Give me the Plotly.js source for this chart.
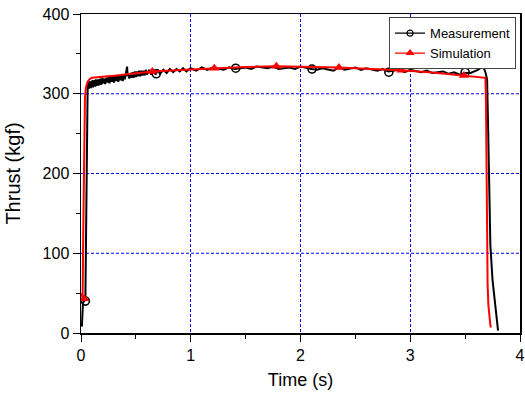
<!DOCTYPE html>
<html>
<head>
<meta charset="utf-8">
<script src="https://cdn.plot.ly/plotly-3.0.1.min.js"></script>
<style>html,body{margin:0;padding:0;background:#fff;}#chart{width:525px;height:396px;}</style>
</head>
<body>
<div id="chart"></div>
<script>
// Measurement (black) time [s] and thrust [kgf]
var measT = [0.008,0.012,0.018,0.030,0.040,0.045,0.050,0.055,0.060,0.065,0.07,0.075,0.08,0.085,0.09,0.095,0.10,0.105,0.11,0.115,0.12,0.125,0.13,0.135,0.14,0.145,0.15,0.155,0.16,0.165,0.17,0.175,0.18,0.185,0.19,0.195,0.20,0.21,0.22,0.23,0.24,0.25,0.26,0.27,0.28,0.29,0.30,0.31,0.32,0.33,0.34,0.35,0.36,0.37,0.38,0.39,0.40,0.41,0.42,0.425,0.43,0.44,0.45,0.46,0.47,0.48,0.49,0.50,0.51,0.52,0.53,0.54,0.55,0.56,0.57,0.58,0.59,0.60,0.62,0.64,0.66,0.68,0.70,0.72,0.75,0.78,0.81,0.84,0.87,0.90,0.93,0.96,1.00,1.05,1.10,1.15,1.20,1.30,1.35,1.40,1.50,1.55,1.60,1.70,1.75,1.80,1.90,1.95,2.00,2.10,2.15,2.20,2.30,2.35,2.40,2.50,2.55,2.60,2.70,2.75,2.80,2.90,2.95,3.00,3.10,3.15,3.20,3.30,3.35,3.40,3.45,3.50,3.55,3.60,3.63,3.65,3.67,3.685,3.70,3.71,3.72,3.73,3.75,3.77,3.79,3.80];
var measV = [8,25,38,40,42,110,220,280,303,314,306,316,308,315,307,316,309,317,308,316,310,317,309,318,310,317,311,318,310,318,312,319,311,318,312,320,313,319,312,320,314,321,313,321,315,322,314,322,316,323,315,323,317,324,316,324,318,326,334,322,325,319,326,320,327,320,328,321,328,322,329,322,329,323,329,323,330,324,330,324,330,324,330,325,330,326,331,327,331,328,332,328,332,329,333,330,333,330,333,331,333,331,334,332,334,331,333,331,334,331,330,332,329,333,330,333,330,332,329,331,328,330,327,330,327,329,326,328,325,327,324,326,326,329,331,333.5,332,327,318,255,180,110,66,41,16,3,0.5];
var measMarkT = [0.04,0.686,1.41,2.105,2.805,3.50];
var measMarkV = [40,325,332,331,327,327];

// Simulation (red)
var simT = [0.000,0.015,0.020,0.028,0.036,0.045,0.060,0.080,0.10,0.30,0.65,1.00,1.215,1.50,1.78,2.00,2.35,2.60,2.92,3.20,3.49,3.60,3.685,3.690,3.695,3.700,3.705,3.712,3.720,3.730,3.735];
var simV = [50,44,120,240,295,308,315,318.5,320,322.5,328,330.5,332,333.5,334.5,334,333,331.5,329.5,326.5,323,321.5,320,290,190,100,60,35,20,10,7];
var simMarkT = [0.03,0.65,1.215,1.78,2.35,2.92,3.49];
var simMarkV = [43,328,332,334.5,333,329.5,323];

var seriesNames = ["Measurement","Simulation"];
var xTickVals = [0,1,2,3,4];
var yTickVals = [0,100,200,300,400];
var yGridVals = [100,200,300];

var FONT = "Arial, 'Liberation Sans', sans-serif";

var traces = [
  {x: measT, y: measV, mode: "lines", line: {color: "#000", width: 2}, showlegend: false, hoverinfo: "skip"},
  {x: measMarkT, y: measMarkV, mode: "markers", marker: {symbol: "circle-open", size: 8, color: "#000", line: {width: 1.6, color: "#000"}}, showlegend: false},
  {x: simT, y: simV, mode: "lines", line: {color: "#ff0000", width: 2}, showlegend: false},
  {x: simMarkT, y: simMarkV, mode: "markers", marker: {symbol: "triangle-up", size: 9, color: "#ff0000"}, showlegend: false},
  {x: [null], y: [null], name: seriesNames[0], mode: "lines+markers", line: {color: "#000", width: 1.2}, marker: {symbol: "circle-open", size: 6, color: "#000", line: {width: 1.2, color: "#000"}}},
  {x: [null], y: [null], name: seriesNames[1], mode: "lines+markers", line: {color: "#ff0000", width: 1.2}, marker: {symbol: "triangle-up", size: 8, color: "#ff0000"}}
];

function axisBase() {
  return {
    showline: true, linecolor: "#000", linewidth: 1.5, mirror: true,
    ticks: "outside", ticklen: 7, tickwidth: 1, tickcolor: "#000",
    showgrid: true, gridcolor: "rgb(0,0,255)", gridwidth: 1, griddash: "3px,2px",
    zeroline: false,
    tickfont: {family: FONT, size: 16, color: "#000"}
  };
}

var xa = axisBase();
xa.range = [0, 4];
xa.tickvals = xTickVals;
xa.minor = {dtick: 0.5, ticks: "outside", ticklen: 4, tickwidth: 1, tickcolor: "#000", showgrid: false};
xa.title = {text: "Time (s)", font: {family: FONT, size: 18, color: "#000"}, standoff: 10};

var ya = axisBase();
ya.range = [0, 400];
ya.tickvals = yTickVals;
ya.showgrid = false;
ya.minor = {dtick: 50, ticks: "outside", ticklen: 4, tickwidth: 1, tickcolor: "#000", showgrid: false};
ya.title = {text: "Thrust (kgf)", font: {family: FONT, size: 20, color: "#000"}, standoff: 16};

var gridShapes = yGridVals.map(function (v) {
  return {type: "line", layer: "below", xref: "paper", x0: 0, x1: 1, yref: "y", y0: v, y1: v,
          line: {color: "#0000ff", width: 1, dash: "3px,2px"}};
});

var layout = {
  width: 525, height: 396,
  margin: {l: 81, r: 5, t: 14, b: 63, pad: 0},
  paper_bgcolor: "#fff", plot_bgcolor: "#fff",
  font: {family: FONT, color: "#000"},
  xaxis: xa,
  yaxis: ya,
  shapes: gridShapes,
  showlegend: true,
  legend: {
    x: 0.991, y: 0.99, xanchor: "right", yanchor: "top",
    bgcolor: "#fff", bordercolor: "#444", borderwidth: 1,
    font: {family: FONT, size: 13, color: "#000"},
    tracegroupgap: 0
  }
};

Plotly.newPlot("chart", traces, layout, {displayModeBar: false, staticPlot: true});
</script>
</body>
</html>
